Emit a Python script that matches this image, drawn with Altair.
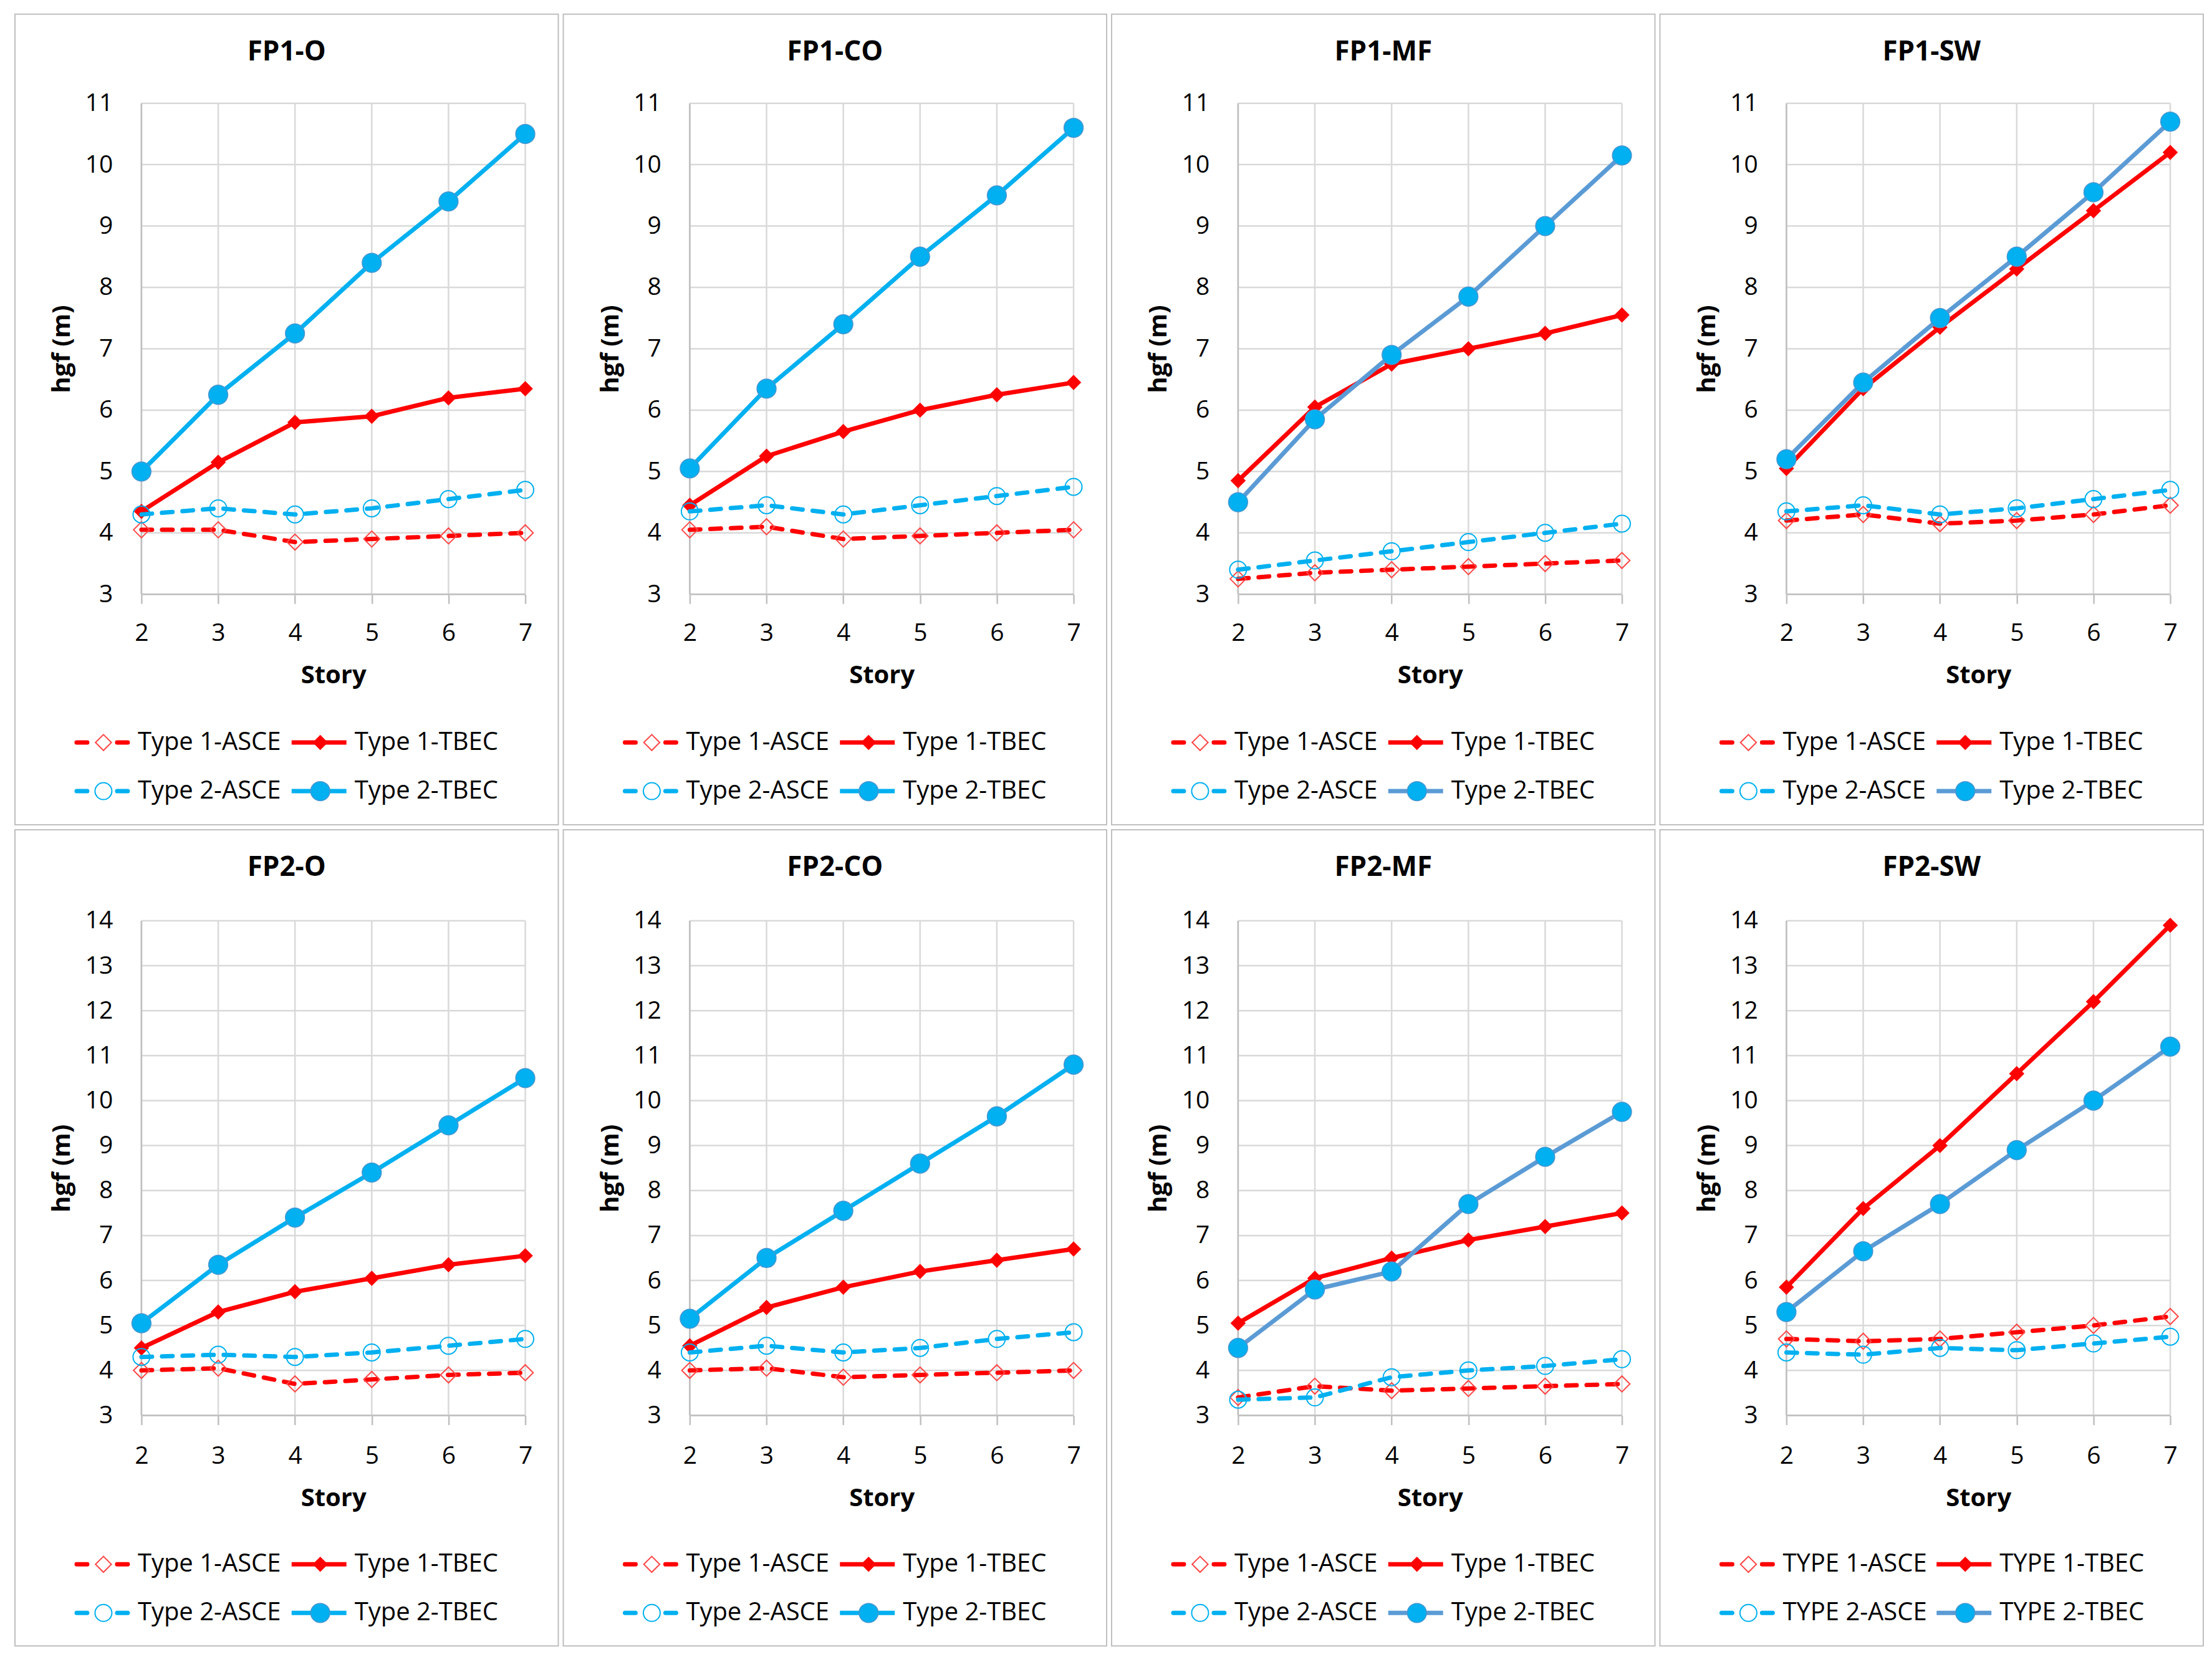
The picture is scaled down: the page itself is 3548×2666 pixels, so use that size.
import altair as alt
import pandas as pd

# ---------------- data ----------------
stories = [2, 3, 4, 5, 6, 7]
panel_names = ["FP1-O", "FP1-CO", "FP1-MF", "FP1-SW", "FP2-O", "FP2-CO", "FP2-MF", "FP2-SW"]
series_keys = ["t1_asce", "t1_tbec", "t2_asce", "t2_tbec"]
legend_labels = ["Type 1-ASCE", "Type 1-TBEC", "Type 2-ASCE", "Type 2-TBEC"]
legend_labels_upper = ["TYPE 1-ASCE", "TYPE 1-TBEC", "TYPE 2-ASCE", "TYPE 2-TBEC"]

fp1_o_t1_asce = [4.05, 4.05, 3.85, 3.9, 3.95, 4.0]
fp1_o_t1_tbec = [4.35, 5.15, 5.8, 5.9, 6.2, 6.35]
fp1_o_t2_asce = [4.3, 4.4, 4.3, 4.4, 4.55, 4.7]
fp1_o_t2_tbec = [5.0, 6.25, 7.25, 8.4, 9.4, 10.5]

fp1_co_t1_asce = [4.05, 4.1, 3.9, 3.95, 4.0, 4.05]
fp1_co_t1_tbec = [4.45, 5.25, 5.65, 6.0, 6.25, 6.45]
fp1_co_t2_asce = [4.35, 4.45, 4.3, 4.45, 4.6, 4.75]
fp1_co_t2_tbec = [5.05, 6.35, 7.4, 8.5, 9.5, 10.6]

fp1_mf_t1_asce = [3.25, 3.35, 3.4, 3.45, 3.5, 3.55]
fp1_mf_t1_tbec = [4.85, 6.05, 6.75, 7.0, 7.25, 7.55]
fp1_mf_t2_asce = [3.4, 3.55, 3.7, 3.85, 4.0, 4.15]
fp1_mf_t2_tbec = [4.5, 5.85, 6.9, 7.85, 9.0, 10.15]

fp1_sw_t1_asce = [4.2, 4.3, 4.15, 4.2, 4.3, 4.45]
fp1_sw_t1_tbec = [5.05, 6.35, 7.35, 8.3, 9.25, 10.2]
fp1_sw_t2_asce = [4.35, 4.45, 4.3, 4.4, 4.55, 4.7]
fp1_sw_t2_tbec = [5.2, 6.45, 7.5, 8.5, 9.55, 10.7]

fp2_o_t1_asce = [4.0, 4.05, 3.7, 3.8, 3.9, 3.95]
fp2_o_t1_tbec = [4.5, 5.3, 5.75, 6.05, 6.35, 6.55]
fp2_o_t2_asce = [4.3, 4.35, 4.3, 4.4, 4.55, 4.7]
fp2_o_t2_tbec = [5.05, 6.35, 7.4, 8.4, 9.45, 10.5]

fp2_co_t1_asce = [4.0, 4.05, 3.85, 3.9, 3.95, 4.0]
fp2_co_t1_tbec = [4.55, 5.4, 5.85, 6.2, 6.45, 6.7]
fp2_co_t2_asce = [4.4, 4.55, 4.4, 4.5, 4.7, 4.85]
fp2_co_t2_tbec = [5.15, 6.5, 7.55, 8.6, 9.65, 10.8]

fp2_mf_t1_asce = [3.4, 3.65, 3.55, 3.6, 3.65, 3.7]
fp2_mf_t1_tbec = [5.05, 6.05, 6.5, 6.9, 7.2, 7.5]
fp2_mf_t2_asce = [3.35, 3.4, 3.85, 4.0, 4.1, 4.25]
fp2_mf_t2_tbec = [4.5, 5.8, 6.2, 7.7, 8.75, 9.75]

fp2_sw_t1_asce = [4.7, 4.65, 4.7, 4.85, 5.0, 5.2]
fp2_sw_t1_tbec = [5.85, 7.6, 9.0, 10.6, 12.2, 13.9]
fp2_sw_t2_asce = [4.4, 4.35, 4.5, 4.45, 4.6, 4.75]
fp2_sw_t2_tbec = [5.3, 6.65, 7.7, 8.9, 10.0, 11.2]

panel_values = {
    "FP1-O": [fp1_o_t1_asce, fp1_o_t1_tbec, fp1_o_t2_asce, fp1_o_t2_tbec],
    "FP1-CO": [fp1_co_t1_asce, fp1_co_t1_tbec, fp1_co_t2_asce, fp1_co_t2_tbec],
    "FP1-MF": [fp1_mf_t1_asce, fp1_mf_t1_tbec, fp1_mf_t2_asce, fp1_mf_t2_tbec],
    "FP1-SW": [fp1_sw_t1_asce, fp1_sw_t1_tbec, fp1_sw_t2_asce, fp1_sw_t2_tbec],
    "FP2-O": [fp2_o_t1_asce, fp2_o_t1_tbec, fp2_o_t2_asce, fp2_o_t2_tbec],
    "FP2-CO": [fp2_co_t1_asce, fp2_co_t1_tbec, fp2_co_t2_asce, fp2_co_t2_tbec],
    "FP2-MF": [fp2_mf_t1_asce, fp2_mf_t1_tbec, fp2_mf_t2_asce, fp2_mf_t2_tbec],
    "FP2-SW": [fp2_sw_t1_asce, fp2_sw_t1_tbec, fp2_sw_t2_asce, fp2_sw_t2_tbec],
}

# ---------------- styling ----------------
FONT = "Open Sans"
RED = "#FF0000"
CYAN = "#00B0F0"
STEEL = "#5B9BD5"
GRID = "#D9D9D9"
AXIS = "#BFBFBF"
W = 872
PL, PR = 203, 819           # plot area left/right inside a panel
LW = 7
DASH = [17, 16]


def series_style(idx, t2_line):
    if idx == 0:
        return dict(line=RED, dash=True, shape="diamond", filled=False, stroke="#FF4646", size=650, sw=2)
    if idx == 1:
        return dict(line=RED, dash=False, shape="diamond", filled=True, fill=RED, size=600, sw=0)
    if idx == 2:
        return dict(line=CYAN, dash=True, shape="circle", filled=False, stroke=CYAN, size=730, sw=2)
    return dict(line=t2_line, dash=False, shape="circle", filled=True, fill=CYAN, stroke="#4A96D0",
                size=950, sw=1.5)


def point_mark(st):
    if st["filled"]:
        kw = dict(shape=st["shape"], filled=True, fill=st["fill"], size=st["size"], opacity=1)
        if st["sw"]:
            kw.update(stroke=st["stroke"], strokeWidth=st["sw"])
        return kw
    return dict(shape=st["shape"], filled=False, stroke=st["stroke"], strokeWidth=st["sw"],
                size=st["size"], opacity=1)


def line_mark(st):
    kw = dict(color=st["line"], strokeWidth=LW, strokeJoin="round")
    if st["dash"]:
        kw.update(strokeDash=DASH, strokeCap="round")
    return kw


def make_panel(name, ymax, H, yb, yt, label_c, legend_y, labels, t2_line):
    vals = panel_values[name]
    xs = alt.Scale(domain=[2, 7], range=[PL, PR], nice=False, zero=False)
    ys = alt.Scale(domain=[3, ymax], range=[yb, yt], nice=False, zero=False)
    yticks = list(range(3, ymax + 1))

    xaxis = alt.Axis(values=stories, format="d", offset=-(H - yb), grid=False, domain=False,
                     tickColor=AXIS, tickWidth=2.5, tickSize=15, labelFlush=False,
                     labelFont=FONT, labelFontSize=39, labelColor="black",
                     labelPadding=label_c - yb - 15 - 17, title="Story", titleFont=FONT,
                     titleFontSize=40, titleFontWeight="bold", titleColor="black",
                     titleX=(PL + PR) / 2, titleY=label_c - yb + 70, titleBaseline="middle",
                     titleAlign="center")
    yaxis = alt.Axis(values=yticks, format="d", offset=-PL, grid=False, domain=False,
                     ticks=False, labelFlush=False, labelFont=FONT, labelFontSize=39,
                     labelColor="black", labelPadding=46, title="hgf (m)", titleFont=FONT,
                     titleFontSize=40, titleFontWeight="bold", titleColor="black",
                     titleX=76 - PL, titleY=(yb + yt) / 2, titleAngle=-90,
                     titleBaseline="middle", titleAlign="center")

    def X(f):
        return alt.X(f, scale=xs, axis=xaxis)

    def Y(f):
        return alt.Y(f, scale=ys, axis=yaxis)

    gh = pd.DataFrame({"gy": yticks, "gx0": [2] * len(yticks), "gx1": [7] * len(yticks)})
    gv = pd.DataFrame({"gx": stories, "gy0": [3] * 6, "gy1": [ymax] * 6})

    vgrid = alt.Chart(gv).mark_rule(color=GRID, strokeWidth=2.5).encode(
        x=X("gx:Q"), y=Y("gy0:Q"), y2="gy1:Q")
    hgrid = alt.Chart(gh).mark_rule(color=GRID, strokeWidth=2.5).encode(
        x=X("gx0:Q"), x2="gx1:Q", y=Y("gy:Q"))

    # axis lines drawn above the grid (left at story 2, bottom at 3)
    frame = pd.DataFrame({"fx": [2], "fx1": [7], "fy": [3], "fy1": [ymax]})
    base_line = alt.Chart(frame).mark_rule(color=AXIS, strokeWidth=2.5).encode(
        x=X("fx:Q"), x2="fx1:Q", y=Y("fy:Q"))
    left_line = alt.Chart(frame).mark_rule(color=AXIS, strokeWidth=2.5).encode(
        x=X("fx:Q"), y=Y("fy:Q"), y2="fy1:Q")

    layers = [vgrid, hgrid, base_line, left_line]
    for i, key in enumerate(series_keys):
        st = series_style(i, t2_line)
        sd = pd.DataFrame({"story": stories, "value": vals[i], "series": legend_labels[i]})
        enc = dict(x=X("story:Q"), y=Y("value:Q"))
        layers.append(alt.Chart(sd).mark_line(**line_mark(st)).encode(**enc))
        layers.append(alt.Chart(sd).mark_point(**point_mark(st)).encode(**enc))

    # legend (2 x 2)
    one = pd.DataFrame({"k": [0]})
    for i, lab in enumerate(labels):
        st = series_style(i, t2_line)
        c, r = i % 2, i // 2
        x0 = 96 + c * 348
        y = legend_y + r * 78
        rkw = dict(color=st["line"], strokeWidth=LW)
        if st["dash"]:
            rkw.update(strokeDash=[17, 48], strokeCap="round")
            lx0, lx1 = x0 + 3, x0 + 85
        else:
            lx0, lx1 = x0, x0 + 88
        layers.append(alt.Chart(one).mark_rule(**rkw).encode(
            x=alt.value(lx0), x2=alt.value(lx1), y=alt.value(y)))
        layers.append(alt.Chart(one).mark_point(**point_mark(st)).encode(
            x=alt.value(x0 + 46), y=alt.value(y)))
        layers.append(alt.Chart(one).mark_text(
            text=lab, font=FONT, fontSize=40, color="black", align="left",
            baseline="middle").encode(x=alt.value(x0 + 101), y=alt.value(y)))

    layers.append(alt.Chart(one).mark_text(
        text=name, font=FONT, fontSize=44, fontWeight="bold", color="black",
        align="center", baseline="middle").encode(x=alt.value(W / 2), y=alt.value(61)))

    return alt.layer(*layers).properties(width=W, height=H)


top = []
bottom = []
for name in panel_names[:4]:
    t2l = STEEL if name.endswith("MF") or name.endswith("SW") else CYAN
    top.append(make_panel(name, 11, 1301, 931, 143, 991, 1169, legend_labels, t2l))
for name in panel_names[4:]:
    t2l = STEEL if name.endswith("MF") or name.endswith("SW") else CYAN
    labs = legend_labels_upper if name == "FP2-SW" else legend_labels
    bottom.append(make_panel(name, 14, 1310, 940, 146, 1003, 1179, labs, t2l))

chart = alt.vconcat(
    alt.hconcat(*top, spacing=6),
    alt.hconcat(*bottom, spacing=6),
    spacing=6,
).properties(
    padding={"left": 15, "top": 13, "right": 5, "bottom": 5}
).configure_view(
    stroke="#BFBFBF", strokeWidth=2
)

chart.save("out.html", embed_options={"renderer": "svg", "actions": False})
